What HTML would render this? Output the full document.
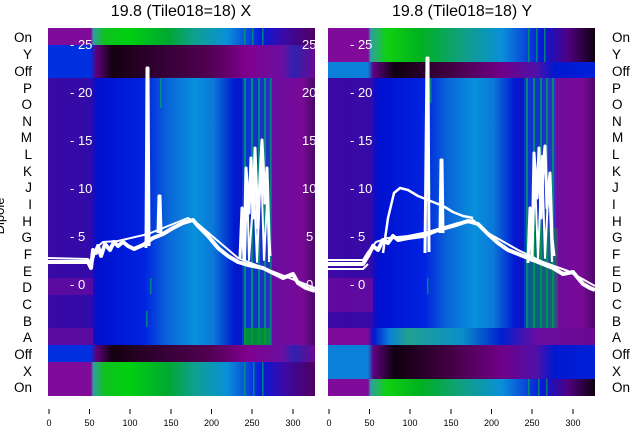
<!DOCTYPE html>
<html><head><meta charset="utf-8"><style>
html,body{margin:0;padding:0;background:#fff;}
svg{display:block;font-family:"Liberation Sans","DejaVu Sans",sans-serif;}
</style></head><body>
<svg width="640" height="440" viewBox="0 0 640 440" xmlns="http://www.w3.org/2000/svg">
<defs>
<linearGradient id="body" x1="0" x2="1" y1="0" y2="0">
<stop offset="0" stop-color="#3a0aa8"/><stop offset="0.15" stop-color="#2c0cb0"/>
<stop offset="0.19" stop-color="#0010d0"/><stop offset="0.36" stop-color="#0022e0"/>
<stop offset="0.45" stop-color="#0a66d8"/><stop offset="0.55" stop-color="#0890dc"/>
<stop offset="0.62" stop-color="#0a78d8"/><stop offset="0.7" stop-color="#0018d0"/>
<stop offset="0.78" stop-color="#2a0cb0"/><stop offset="0.84" stop-color="#6a0ca0"/>
<stop offset="0.95" stop-color="#7a0a98"/><stop offset="1" stop-color="#4a0868"/>
</linearGradient>
<linearGradient id="greenL" x1="0" x2="1">
<stop offset="0" stop-color="#800a9a"/><stop offset="0.16" stop-color="#800a9a"/>
<stop offset="0.17" stop-color="#30a0a0"/><stop offset="0.21" stop-color="#10c020"/>
<stop offset="0.3" stop-color="#00d010"/><stop offset="0.45" stop-color="#00a830"/>
<stop offset="0.55" stop-color="#10a090"/><stop offset="0.67" stop-color="#0a90d8"/>
<stop offset="0.8" stop-color="#0818d8"/><stop offset="0.88" stop-color="#3a0aa8"/>
<stop offset="1" stop-color="#500060"/>
</linearGradient>
<linearGradient id="darkL" x1="0" x2="1">
<stop offset="0" stop-color="#0030e0"/><stop offset="0.16" stop-color="#0030e0"/>
<stop offset="0.18" stop-color="#600080"/><stop offset="0.24" stop-color="#150010"/>
<stop offset="0.4" stop-color="#300030"/><stop offset="0.6" stop-color="#500050"/>
<stop offset="0.75" stop-color="#800090"/><stop offset="0.88" stop-color="#6a10a0"/>
<stop offset="0.92" stop-color="#3020b0"/><stop offset="1" stop-color="#6a0a90"/>
</linearGradient>
<linearGradient id="greenR" x1="0" x2="1">
<stop offset="0" stop-color="#800a9a"/><stop offset="0.15" stop-color="#800a9a"/>
<stop offset="0.16" stop-color="#30a0a0"/><stop offset="0.22" stop-color="#10d010"/>
<stop offset="0.35" stop-color="#00b020"/><stop offset="0.5" stop-color="#10a080"/>
<stop offset="0.65" stop-color="#0a90d8"/><stop offset="0.8" stop-color="#0818d8"/>
<stop offset="0.9" stop-color="#500080"/><stop offset="1" stop-color="#100010"/>
</linearGradient>
<linearGradient id="darkR" x1="0" x2="1">
<stop offset="0" stop-color="#0a80d8"/><stop offset="0.15" stop-color="#0a80d8"/>
<stop offset="0.17" stop-color="#600080"/><stop offset="0.25" stop-color="#100010"/>
<stop offset="0.45" stop-color="#400040"/><stop offset="0.65" stop-color="#700088"/>
<stop offset="0.78" stop-color="#5010a8"/><stop offset="0.85" stop-color="#0018d0"/>
<stop offset="1" stop-color="#0020d8"/>
</linearGradient>
<linearGradient id="tealA" x1="0" x2="1">
<stop offset="0" stop-color="#800a9a"/><stop offset="0.15" stop-color="#800a9a"/>
<stop offset="0.17" stop-color="#0018d0"/><stop offset="0.23" stop-color="#0a80d8"/>
<stop offset="0.3" stop-color="#20a090"/><stop offset="0.5" stop-color="#0a90c8"/>
<stop offset="0.65" stop-color="#0020d0"/><stop offset="0.78" stop-color="#6a0ca0"/>
<stop offset="1" stop-color="#6a0a90"/>
</linearGradient>
<clipPath id="cl"><rect x="0" y="0" width="267" height="368"/></clipPath>
</defs>

<text x="181" y="16" font-size="16" text-anchor="middle" fill="#000">19.8 (Tile018=18) X</text>
<text x="462" y="16" font-size="16" text-anchor="middle" fill="#000">19.8 (Tile018=18) Y</text>

<!-- LEFT PANEL -->
<g transform="translate(48,28)" clip-path="url(#cl)">
<rect x="0" y="0" width="267" height="368" fill="url(#body)"/>
<rect x="0" y="50" width="45" height="268" fill="#3a0aa0" opacity="0.5"/>
<rect x="0" y="250" width="45" height="17" fill="#6a0aa0" opacity="0.7"/>
<rect x="0" y="0" width="267" height="17" fill="url(#greenL)"/>
<rect x="0" y="17" width="267" height="33" fill="url(#darkL)"/>
<rect x="0" y="317" width="267" height="17" fill="url(#darkL)"/>
<rect x="0" y="334" width="267" height="34" fill="url(#greenL)"/>
<rect x="0" y="300" width="45" height="17" fill="#5a0aa0"/>
<rect x="194" y="50" width="30" height="267" fill="#0050d8" opacity="0.6"/>
<g fill="#00a070" opacity="0.75">
<rect x="196" y="50" width="2" height="267"/><rect x="203" y="50" width="2" height="267"/>
<rect x="210" y="50" width="2" height="267"/><rect x="216" y="50" width="2" height="267"/>
<rect x="222" y="50" width="1.5" height="267"/>
<rect x="196" y="0" width="1.5" height="17"/><rect x="204" y="0" width="1.5" height="17"/><rect x="214" y="0" width="1.5" height="17"/>
<rect x="196" y="334" width="1.5" height="34"/><rect x="205" y="334" width="1.5" height="34"/><rect x="214" y="334" width="1.5" height="34"/>
<rect x="112" y="50" width="1.5" height="30"/><rect x="100" y="148" width="1.5" height="8"/>
<rect x="102" y="250" width="1.5" height="16"/><rect x="98" y="283" width="1.5" height="16"/>
</g>
<rect x="196" y="300" width="26" height="17" fill="#00a020" opacity="0.8"/>
<g fill="#fff" font-size="13">
<text x="22" y="21">- 25</text><text x="22" y="69">- 20</text><text x="22" y="117">- 15</text>
<text x="22" y="165">- 10</text><text x="22" y="213">- 5</text><text x="22" y="261">- 0</text>
<text x="254" y="21">25</text><text x="254" y="69">20</text><text x="254" y="117">15</text>
<text x="254" y="165">10</text><text x="258" y="213">5</text><text x="258" y="261">0</text>
</g>
<g fill="none" stroke="#fff" stroke-linejoin="round">
<polyline stroke-width="4" points="0,234 40,234 43,240 45,222 48,225 50,218 53,228 57,216 62,222 66,214 70,218 75,214 80,218 86,221 95,217 105,210 115,206 125,200 135,195 145,192 150,198 160,208 170,220 180,228 190,234 200,237 215,240 225,245 235,250 245,246 250,255 258,260 267,263"/>
<polyline stroke-width="2" points="0,230 40,231 44,236 48,220 55,214 70,213 100,206 140,190 150,196 190,230 267,260"/>
<polyline stroke-width="3" points="98,220 99,40 100,40 101,218"/>
<polyline stroke-width="3" points="110,205 111,168 112,168 113,205"/>
<polyline stroke-width="3" points="192,230 194,180 196,232 198,140 201,185 203,130 205,190 207,120 210,200 212,150 214,112 217,175 219,140 221,210 222,228"/>
<polyline stroke-width="2" points="197,233 199,150 201,232 206,160 209,234 213,130 216,232 220,155 221,234"/>
</g>
</g>

<!-- RIGHT PANEL -->
<g transform="translate(328,28)" clip-path="url(#cl)">
<rect x="0" y="0" width="267" height="368" fill="url(#body)"/>
<rect x="0" y="50" width="45" height="268" fill="#400aa0" opacity="0.55"/>
<rect x="0" y="250" width="45" height="34" fill="#700aa0" opacity="0.7"/>
<rect x="0" y="0" width="267" height="34" fill="url(#greenR)"/>
<rect x="0" y="34" width="267" height="16" fill="url(#darkR)"/>
<rect x="0" y="300" width="267" height="17" fill="url(#tealA)"/>
<rect x="0" y="317" width="267" height="34" fill="url(#darkR)"/>
<rect x="0" y="351" width="267" height="17" fill="url(#greenR)"/>
<rect x="196" y="50" width="32" height="250" fill="#0050d8" opacity="0.6"/>
<g fill="#00a060" opacity="0.75">
<rect x="198" y="50" width="2" height="250"/><rect x="205" y="50" width="2" height="250"/>
<rect x="212" y="50" width="2" height="250"/><rect x="218" y="50" width="2" height="250"/>
<rect x="224" y="50" width="2" height="250"/>
<rect x="200" y="0" width="1.5" height="34"/><rect x="208" y="0" width="1.5" height="34"/><rect x="216" y="0" width="1.5" height="34"/>
<rect x="200" y="351" width="1.5" height="17"/><rect x="210" y="351" width="1.5" height="17"/><rect x="218" y="351" width="1.5" height="17"/>
<rect x="102" y="50" width="1.5" height="25"/><rect x="101" y="150" width="1.5" height="16"/><rect x="99" y="250" width="1.5" height="16"/>
</g>
<rect x="200" y="200" width="30" height="100" fill="#00a020" opacity="0.4"/>
<g fill="#fff" font-size="13">
<text x="22" y="21">- 25</text><text x="22" y="69">- 20</text><text x="22" y="117">- 15</text>
<text x="22" y="165">- 10</text><text x="22" y="213">- 5</text><text x="22" y="261">- 0</text>
</g>
<g fill="none" stroke="#fff" stroke-linejoin="round">
<polyline stroke-width="4" points="0,236 35,236 40,228 45,218 50,222 55,212 60,215 65,208 70,212 80,210 95,208 110,202 125,198 140,193 150,196 160,206 170,215 180,222 195,228 205,232 215,236 225,240 235,246 245,244 250,250 255,256 262,260 267,262"/>
<polyline stroke-width="2" points="0,232 35,232 40,224 48,214 60,210 80,208 100,204 130,195 145,192 160,205 190,222 215,234 240,243 267,258"/>
<polyline stroke-width="2" points="0,241 35,241 40,236"/>
<polyline stroke-width="2.5" points="55,225 60,190 66,165 72,160 80,162 90,168 100,172 115,178 125,184 135,188 145,190"/>
<polyline stroke-width="3" points="97,225 99,30 100,30 101,224"/>
<polyline stroke-width="3" points="112,205 113,132 114,132 115,205"/>
<polyline stroke-width="3" points="200,235 202,180 204,232 206,125 209,170 211,120 213,190 215,140 217,118 219,180 222,145 224,210 226,228"/>
<polyline stroke-width="2" points="204,234 207,150 210,232 214,128 217,230 221,150 224,234"/>
</g>
</g>

<!-- row labels -->
<g font-size="13.5" fill="#000">
<g text-anchor="end">
<text x="32" y="42">On</text><text x="32" y="59">Y</text><text x="32" y="76">Off</text>
<text x="32" y="93">P</text><text x="32" y="109">O</text><text x="32" y="126">N</text>
<text x="32" y="142">M</text><text x="32" y="159">L</text><text x="32" y="176">K</text>
<text x="32" y="192">J</text><text x="32" y="209">I</text><text x="32" y="226">H</text>
<text x="32" y="242">G</text><text x="32" y="259">F</text><text x="32" y="276">E</text>
<text x="32" y="292">D</text><text x="32" y="309">C</text><text x="32" y="326">B</text>
<text x="32" y="342">A</text><text x="32" y="359">Off</text><text x="32" y="376">X</text>
<text x="32" y="392">On</text>
</g>
<g>
<text x="612" y="42">On</text><text x="612" y="59">Y</text><text x="612" y="76">Off</text>
<text x="612" y="93">P</text><text x="612" y="109">O</text><text x="612" y="126">N</text>
<text x="612" y="142">M</text><text x="612" y="159">L</text><text x="612" y="176">K</text>
<text x="612" y="192">J</text><text x="612" y="209">I</text><text x="612" y="226">H</text>
<text x="612" y="242">G</text><text x="612" y="259">F</text><text x="612" y="276">E</text>
<text x="612" y="292">D</text><text x="612" y="309">C</text><text x="612" y="326">B</text>
<text x="612" y="342">A</text><text x="612" y="359">Off</text><text x="612" y="376">X</text>
<text x="612" y="392">On</text>
</g>
</g>
<text transform="translate(4,216) rotate(-90)" font-size="13" text-anchor="middle" fill="#000">Dipole</text>

<!-- x ticks -->
<g stroke="#000" stroke-width="1">
<line x1="49" y1="409" x2="49" y2="414"/><line x1="89.5" y1="409" x2="89.5" y2="414"/><line x1="130" y1="409" x2="130" y2="414"/>
<line x1="171" y1="409" x2="171" y2="414"/><line x1="211.5" y1="409" x2="211.5" y2="414"/><line x1="252" y1="409" x2="252" y2="414"/><line x1="293" y1="409" x2="293" y2="414"/>
<line x1="329" y1="409" x2="329" y2="414"/><line x1="369.5" y1="409" x2="369.5" y2="414"/><line x1="410" y1="409" x2="410" y2="414"/>
<line x1="451" y1="409" x2="451" y2="414"/><line x1="491.5" y1="409" x2="491.5" y2="414"/><line x1="532" y1="409" x2="532" y2="414"/><line x1="573" y1="409" x2="573" y2="414"/>
</g>
<g font-size="9" fill="#000" text-anchor="middle">
<text x="49" y="426">0</text><text x="89.5" y="426">50</text><text x="130" y="426">100</text><text x="171" y="426">150</text>
<text x="211.5" y="426">200</text><text x="252" y="426">250</text><text x="293" y="426">300</text>
<text x="329" y="426">0</text><text x="369.5" y="426">50</text><text x="410" y="426">100</text><text x="451" y="426">150</text>
<text x="491.5" y="426">200</text><text x="532" y="426">250</text><text x="573" y="426">300</text>
</g>
</svg>
</body></html>
